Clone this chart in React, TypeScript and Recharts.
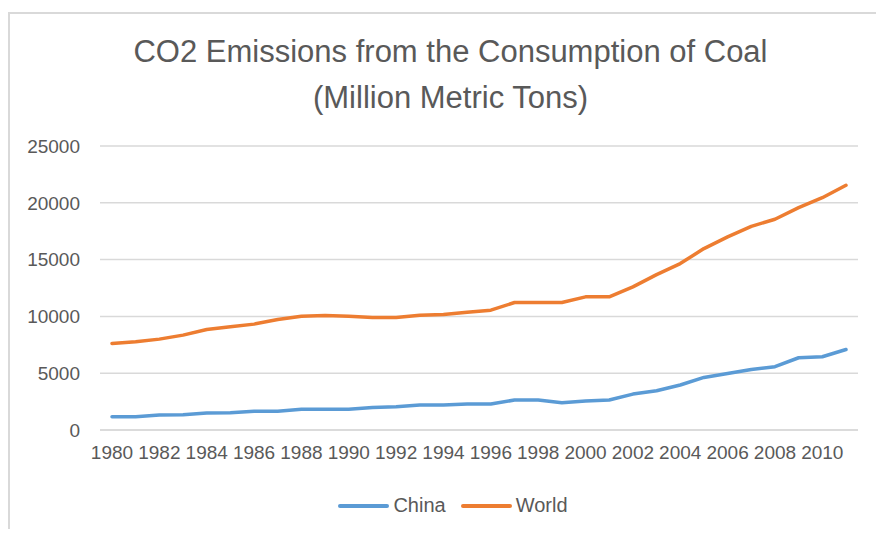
import React from 'react';
import { LineChart, Line, XAxis, YAxis, CartesianGrid } from 'recharts';

// years 1980 - 2011
const years = [
  '1980', '1981', '1982', '1983', '1984', '1985', '1986', '1987',
  '1988', '1989', '1990', '1991', '1992', '1993', '1994', '1995',
  '1996', '1997', '1998', '1999', '2000', '2001', '2002', '2003',
  '2004', '2005', '2006', '2007', '2008', '2009', '2010', '2011',
];

const china = [
  1170, 1170, 1320, 1350, 1490, 1520, 1660, 1660,
  1820, 1820, 1820, 1990, 2050, 2200, 2200, 2290,
  2290, 2640, 2640, 2400, 2550, 2640, 3160, 3460,
  3960, 4630, 4980, 5330, 5570, 6360, 6450, 7090,
];

const world = [
  7620, 7760, 8000, 8350, 8850, 9080, 9320, 9730,
  10020, 10080, 10020, 9900, 9900, 10110, 10170, 10370,
  10550, 11220, 11220, 11220, 11720, 11720, 12600, 13680,
  14650, 15970, 17000, 17930, 18550, 19570, 20450, 21540,
];

const yTicks = [0, 5000, 10000, 15000, 20000, 25000];

const series = [
  { key: 'China', color: '#5B9BD5' },
  { key: 'World', color: '#ED7D31' },
];

const data = years.map((year, i) => ({ year, China: china[i], World: world[i] }));

const FONT = '"Liberation Sans", Arial, sans-serif';
const TEXT = '#595959';

export default function App() {
  return (
    <div style={{ position: 'relative', margin: -8, width: 884, height: 537, overflow: 'hidden', background: '#fff', fontFamily: FONT }}>
      {/* chart frame, only top and left edges show */}
      <div
        style={{
          position: 'absolute',
          left: 8,
          top: 12,
          width: 900,
          height: 540,
          borderTop: '2px solid #d9d9d9',
          borderLeft: '2px solid #d9d9d9',
        }}
      />
      <div
        style={{
          position: 'absolute',
          left: 0,
          width: 901,
          top: 29,
          textAlign: 'center',
          color: TEXT,
          fontSize: 31,
          lineHeight: '46px',
        }}
      >
        CO2 Emissions from the Consumption of Coal
        <br />
        (Million Metric Tons)
      </div>
      <div style={{ position: 'absolute', left: 0, top: 0 }}>
        <LineChart width={884} height={537} data={data} margin={{ top: 146, right: 26, bottom: 77, left: 0 }}>
          <CartesianGrid vertical={false} stroke="#d9d9d9" strokeWidth={1.5} />
          <XAxis
            dataKey="year"
            interval={1}
            axisLine={{ stroke: '#d9d9d9', strokeWidth: 1.5 }}
            tickLine={false}
            tickSize={0}
            tickMargin={16}
            padding={{ left: 12, right: 12 }}
            height={30}
            tick={{ fill: TEXT, fontSize: 19, fontFamily: FONT }}
          />
          <YAxis
            domain={[0, 25000]}
            ticks={yTicks}
            width={100}
            axisLine={false}
            tickLine={false}
            tickSize={0}
            tickMargin={20}
            tick={{ fill: TEXT, fontSize: 19, fontFamily: FONT }}
          />
          {series.map((s) => (
            <Line
              key={s.key}
              type="linear"
              dataKey={s.key}
              stroke={s.color}
              strokeWidth={3.5}
              strokeLinecap="round"
              strokeLinejoin="round"
              dot={false}
              activeDot={false}
              isAnimationActive={false}
            />
          ))}
        </LineChart>
      </div>
      {/* legend */}
      <div
        style={{
          position: 'absolute',
          left: 0,
          width: 906,
          top: 494,
          display: 'flex',
          justifyContent: 'center',
          alignItems: 'center',
          gap: 15,
          color: TEXT,
          fontSize: 20,
        }}
      >
        {series.map((s) => (
          <div key={s.key} style={{ display: 'flex', alignItems: 'center' }}>
            <span style={{ display: 'inline-block', width: 51, height: 4, borderRadius: 2, background: s.color, marginRight: 4 }} />
            <span>{s.key}</span>
          </div>
        ))}
      </div>
    </div>
  );
}
